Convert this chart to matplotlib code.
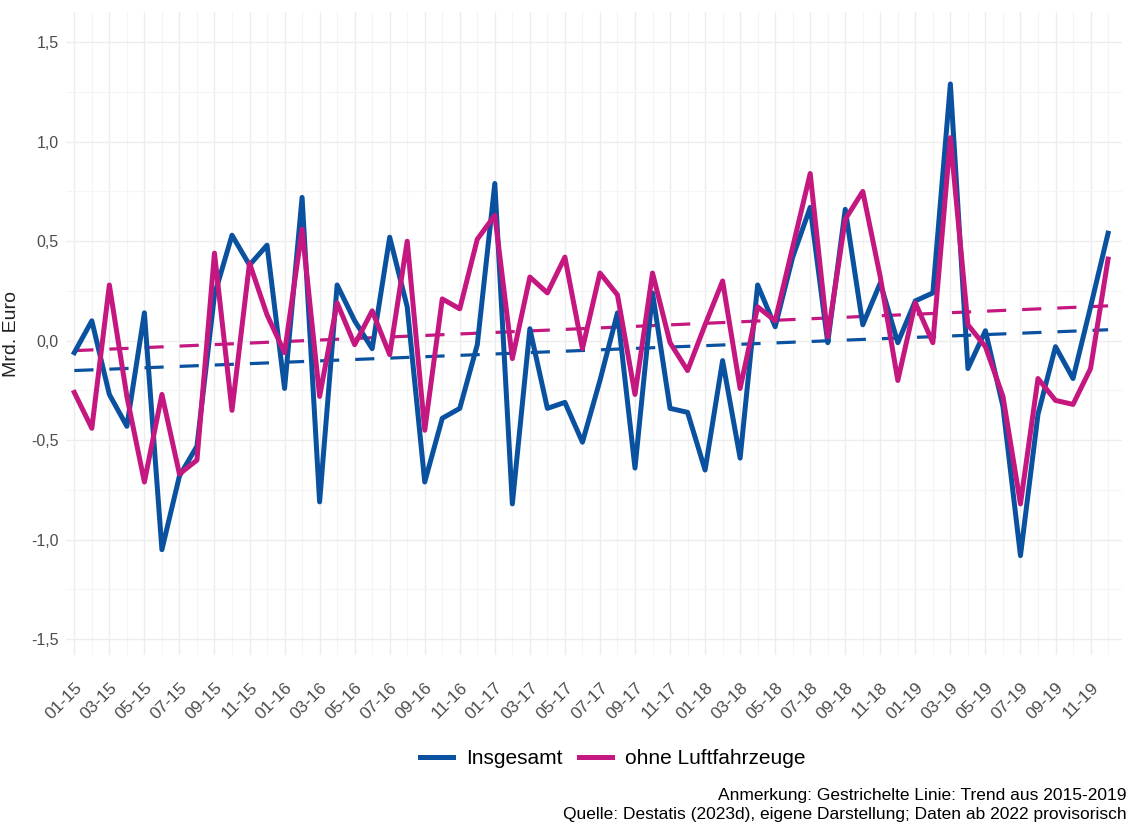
import matplotlib.pyplot as plt
import matplotlib.transforms as mtransforms
import numpy as np

# --- Daten (Monatswerte 01-15 bis 12-19, Mrd. Euro) ---
months = [f"{m:02d}-{y}" for y in range(15, 20) for m in range(1, 13)]

insgesamt = [-0.06, 0.10, -0.27, -0.43, 0.14, -1.05, -0.68, -0.53, 0.23, 0.53,
             0.38, 0.48, -0.24, 0.72, -0.81, 0.28, 0.10, -0.04, 0.52, 0.17,
             -0.71, -0.39, -0.34, -0.02, 0.79, -0.82, 0.06, -0.34, -0.31, -0.51,
             -0.20, 0.14, -0.64, 0.24, -0.34, -0.36, -0.65, -0.10, -0.59, 0.28,
             0.07, 0.42, 0.67, -0.01, 0.66, 0.08, 0.29, -0.01, 0.20, 0.24,
             1.29, -0.14, 0.05, -0.33, -1.08, -0.37, -0.03, -0.19, 0.17, 0.54]

ohne_luft = [-0.26, -0.44, 0.28, -0.28, -0.71, -0.27, -0.67, -0.60, 0.44, -0.35,
             0.39, 0.13, -0.06, 0.56, -0.28, 0.19, -0.02, 0.15, -0.07, 0.50,
             -0.45, 0.21, 0.16, 0.51, 0.63, -0.09, 0.32, 0.24, 0.42, -0.04,
             0.34, 0.23, -0.27, 0.34, -0.01, -0.15, 0.08, 0.30, -0.24, 0.17,
             0.10, 0.47, 0.84, 0.02, 0.61, 0.75, 0.32, -0.20, 0.19, -0.01,
             1.02, 0.08, -0.03, -0.28, -0.82, -0.19, -0.30, -0.32, -0.14, 0.41]

# Trendlinien (Start- und Endwert)
trend_insgesamt = [-0.15, 0.055]
trend_ohne_luft = [-0.05, 0.175]

BLUE = "#0A52A0"
PINK = "#C4177F"

plt.rcParams['font.family'] = ['Liberation Sans', 'DejaVu Sans']

fig = plt.figure(figsize=(11.3, 8.22), dpi=100)
ax = fig.add_axes([0.058, 0.203, 0.935, 0.782])

x = np.arange(len(months))

# --- Linien ---
ax.plot(x, insgesamt, color=BLUE, lw=3.6, label="Insgesamt", zorder=3)
ax.plot(x, ohne_luft, color=PINK, lw=3.6, label="ohne Luftfahrzeuge", zorder=3)

# --- Trend (gestrichelt) ---
ends = [x[0], x[-1]]
ax.plot(ends, trend_insgesamt, color=BLUE, lw=2.3, dashes=(6, 5), zorder=2)
ax.plot(ends, trend_ohne_luft, color=PINK, lw=2.3, dashes=(6, 5), zorder=2)

# --- Achsen ---
ax.set_xlim(-0.5, 59.8)
ax.set_ylim(-1.58, 1.65)
ax.set_xticks(x[::2])
ax.set_xticklabels(months[::2], rotation=45, ha="right", va="top",
                   rotation_mode="anchor", fontsize=12.5, color="#4D4D4D")
# Beschriftung leicht nach rechts versetzen (wie im Original)
shift = mtransforms.ScaledTranslation(7 / 100, 0, fig.dpi_scale_trans)
for lab in ax.get_xticklabels():
    lab.set_transform(lab.get_transform() + shift)
ax.set_xticks(x, minor=True)
yt = [-1.5, -1.0, -0.5, 0.0, 0.5, 1.0, 1.5]
ax.set_yticks(yt)
ax.set_yticklabels([f"{v:.1f}".replace(".", ",") for v in yt], fontsize=11.5, color="#4D4D4D")
ax.set_yticks(np.arange(-1.5, 1.6, 0.25), minor=True)
ax.tick_params(axis="both", which="both", length=0)
ax.tick_params(axis="x", pad=18)
ax.tick_params(axis="y", pad=5)
ax.set_ylabel("Mrd. Euro", fontsize=14, color="#222222", labelpad=8)

ax.grid(which="major", color="#EDEDED", lw=1.0)
ax.grid(which="minor", color="#F5F5F5", lw=0.8)
ax.set_axisbelow(True)
for s in ax.spines.values():
    s.set_visible(False)

# --- Legende ---
fig.legend(loc="center", bbox_to_anchor=(0.542, 0.077), ncol=2, frameon=False,
           fontsize=15, handlelength=1.6, handletextpad=0.6, columnspacing=0.8)

# --- Anmerkung / Quelle ---
fig.text(0.997, 0.032, "Anmerkung: Gestrichelte Linie: Trend aus 2015-2019",
         ha="right", va="center", fontsize=12.5)
fig.text(0.997, 0.009, "Quelle: Destatis (2023d), eigene Darstellung; Daten ab 2022 provisorisch",
         ha="right", va="center", fontsize=12.5)

fig.savefig("out.png", dpi=100)
